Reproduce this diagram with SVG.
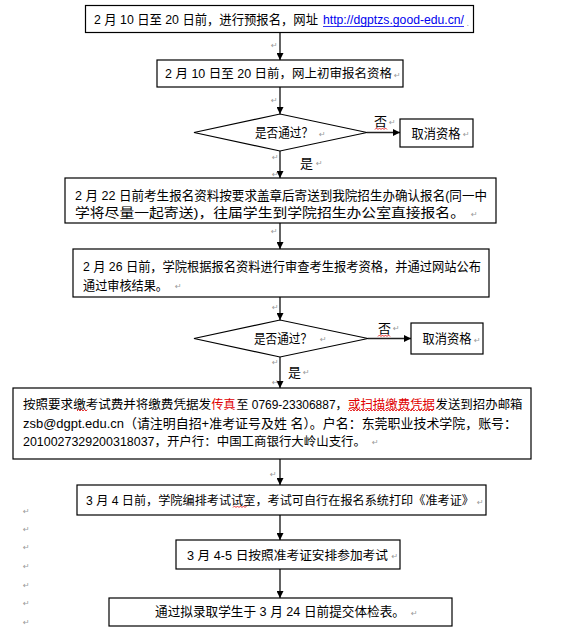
<svg xmlns="http://www.w3.org/2000/svg" width="573" height="634" viewBox="0 0 573 634">
<defs>
<marker id="ah" viewBox="0 0 10 10" refX="10" refY="5" markerWidth="7" markerHeight="7" markerUnits="userSpaceOnUse" orient="auto">
<path d="M0,0 L10,5 L0,10 z" fill="#000"/>
</marker>
<style>
.box{fill:#fff;stroke:#000;stroke-width:1.2}
.t{font-family:"Liberation Sans","Noto Sans CJK SC",sans-serif;font-size:13px;fill:#000}
.red{fill:#e00000}
.lnk{fill:#0000ee}
.rm{font-family:"DejaVu Sans",sans-serif;font-size:8px;fill:#999}
.cn{stroke:#222;stroke-width:1.4;fill:none;marker-end:url(#ah)}
.sq{stroke:#e00000;stroke-width:0.8;fill:none}
</style>
</defs>
<rect width="573" height="634" fill="#fff"/>

<g id="connectors">
<path class="cn" d="M280,32 V60"/>
<path class="cn" d="M280,87 V114"/>
<path class="cn" d="M280,151 V178"/>
<path class="cn" d="M367,132.5 H400"/>
<path class="cn" d="M280,223 V249"/>
<path class="cn" d="M280,297 V320"/>
<path class="cn" d="M280,357 V388"/>
<path class="cn" d="M368,338.5 H411"/>
<path class="cn" d="M280,459 V485"/>
<path class="cn" d="M280,515 V540"/>
<path class="cn" d="M280,569 V598"/>
<text class="t" x="300" y="167.5">是</text>
<text class="t" x="374" y="126">否</text>
<path class="sq" d="M375,129.5 l1.5,-1.5 l1.5,1.5 l1.5,-1.5 l1.5,1.5 l1.5,-1.5 l1.5,1.5 l1.5,-1.5 l1.5,1.5"/>
<text class="t" x="288" y="376.5">是</text>
<text class="t" x="378" y="332.5">否</text>
<path class="sq" d="M378,336.5 l1.5,-1.5 l1.5,1.5 l1.5,-1.5 l1.5,1.5 l1.5,-1.5 l1.5,1.5 l1.5,-1.5 l1.5,1.5"/>
<text class="rm" x="271" y="48">↵</text>
<text class="rm" x="271" y="103">↵</text>
<text class="rm" x="272" y="160">↵</text>
<text class="rm" x="272" y="177">↵</text>
<text class="rm" x="271" y="234">↵</text>
<text class="rm" x="272" y="310">↵</text>
<text class="rm" x="272" y="365">↵</text>
<text class="rm" x="272" y="385">↵</text>
<text class="rm" x="270" y="477">↵</text>
<text class="rm" x="389" y="125">↵</text>
<text class="rm" x="316" y="166">↵</text>
<text class="rm" x="393" y="331">↵</text>
<text class="rm" x="303" y="375">↵</text>
</g>

<g id="n1">
<rect class="box" x="85.5" y="5.5" width="388" height="27"/>
<text class="t" x="94" y="24" textLength="224" lengthAdjust="spacingAndGlyphs">2 月 10 日至 20 日前，进行预报名，网址</text>
<text class="t lnk" x="323" y="24" style="font-size:12px" textLength="141" lengthAdjust="spacingAndGlyphs">http://dgptzs.good-edu.cn/</text>
<line x1="323" y1="26.5" x2="464" y2="26.5" stroke="#0000ee" stroke-width="0.8"/>
<text class="rm" x="466.5" y="26">.</text>
</g>

<g id="n2">
<rect class="box" x="157" y="60" width="246" height="27"/>
<text class="t" x="165" y="78" style="font-size:12.4px" textLength="227" lengthAdjust="spacingAndGlyphs">2 月 10 日至 20 日前，网上初审报名资格</text>
<text class="rm" x="394" y="78">↵</text>
</g>

<g id="d1">
<polygon class="box" points="194,132.5 280,114 367,132.5 280,151"/>
<text class="t" x="255" y="137" textLength="58" lengthAdjust="spacingAndGlyphs">是否通过？</text>
<text class="rm" x="319" y="137">↵</text>
</g>

<g id="c1">
<rect class="box" x="400" y="119" width="73" height="28"/>
<text class="t" x="411.5" y="137.5" textLength="49" lengthAdjust="spacingAndGlyphs">取消资格</text>
<text class="rm" x="463" y="137">↵</text>
</g>

<g id="n3">
<rect class="box" x="65" y="178" width="431" height="45"/>
<text class="t" x="75" y="199.5" textLength="412" lengthAdjust="spacingAndGlyphs">2 月 22 日前考生报名资料按要求盖章后寄送到我院招生办确认报名(同一中</text>
<text class="t" x="75" y="217" textLength="390" lengthAdjust="spacingAndGlyphs">学将尽量一起寄送)，往届学生到学院招生办公室直接报名。</text>
<text class="rm" x="471" y="217">↵</text>
</g>

<g id="n4">
<rect class="box" x="73" y="249" width="416" height="48"/>
<text class="t" x="83" y="271" textLength="398" lengthAdjust="spacingAndGlyphs">2 月 26 日前，学院根据报名资料进行审查考生报考资格，并通过网站公布</text>
<text class="t" x="83" y="289.5" textLength="85" lengthAdjust="spacingAndGlyphs">通过审核结果。</text>
<text class="rm" x="175" y="289">↵</text>
</g>

<g id="d2">
<polygon class="box" points="194,338.5 280,320 368,338.5 280,357"/>
<text class="t" x="254" y="342.5" textLength="58" lengthAdjust="spacingAndGlyphs">是否通过？</text>
<text class="rm" x="320" y="342">↵</text>
</g>

<g id="c2">
<rect class="box" x="411" y="323" width="72" height="31"/>
<text class="t" x="422.5" y="343" textLength="49" lengthAdjust="spacingAndGlyphs">取消资格</text>
<text class="rm" x="474" y="343">↵</text>
</g>

<g id="n5">
<rect class="box" x="13" y="388" width="518" height="71"/>
<text class="t" x="23" y="408.5" style="font-size:12.5px" textLength="188" lengthAdjust="spacingAndGlyphs">按照要求缴考试费并将缴费凭据发</text>
<text class="t red" x="211.5" y="408.5" style="font-size:12.5px" textLength="24" lengthAdjust="spacingAndGlyphs">传真</text>
<text class="t" x="236.5" y="408.5" style="font-size:12px" textLength="111" lengthAdjust="spacingAndGlyphs">至 0769-23306887，</text>
<text class="t red" x="348" y="408.5" style="font-size:12.4px" textLength="87" lengthAdjust="spacingAndGlyphs">或扫描缴费凭据</text>
<text class="t" x="435.5" y="408.5" style="font-size:12.5px" textLength="87" lengthAdjust="spacingAndGlyphs">发送到招办邮箱</text>
<text class="t" x="23" y="428" textLength="494" lengthAdjust="spacingAndGlyphs">zsb@dgpt.edu.cn（请注明自招+准考证号及姓 名）。户名：东莞职业技术学院，账号：</text>
<text class="t" x="23" y="445.5" style="font-size:12.4px" textLength="343" lengthAdjust="spacingAndGlyphs">2010027329200318037，开户行：中国工商银行大岭山支行。</text>
<text class="rm" x="372" y="445">↵</text>
<path class="sq" d="M77,411 l1.5,-1.5 l1.5,1.5 l1.5,-1.5 l1.5,1.5 l1.5,-1.5 l1.5,1.5 l1.5,-1.5"/>
<path class="sq" d="M348,411 l1.5,-1.5 l1.5,1.5 l1.5,-1.5 l1.5,1.5 l1.5,-1.5 l1.5,1.5 l1.5,-1.5 l1.5,1.5 l1.5,-1.5 l1.5,1.5 l1.5,-1.5 l1.5,1.5 l1.5,-1.5 l1.5,1.5 l1.5,-1.5 l1.5,1.5 l1.5,-1.5 l1.5,1.5 l1.5,-1.5 l1.5,1.5 l1.5,-1.5 l1.5,1.5 l1.5,-1.5 l1.5,1.5 l1.5,-1.5 l1.5,1.5 l1.5,-1.5 l1.5,1.5 l1.5,-1.5 l1.5,1.5 l1.5,-1.5 l1.5,1.5 l1.5,-1.5 l1.5,1.5 l1.5,-1.5 l1.5,1.5 l1.5,-1.5 l1.5,1.5 l1.5,-1.5 l1.5,1.5 l1.5,-1.5 l1.5,1.5 l1.5,-1.5 l1.5,1.5 l1.5,-1.5 l1.5,1.5 l1.5,-1.5 l1.5,1.5 l1.5,-1.5 l1.5,1.5 l1.5,-1.5 l1.5,1.5 l1.5,-1.5 l1.5,1.5 l1.5,-1.5 l1.5,1.5 l1.5,-1.5"/>
</g>

<g id="n6">
<rect class="box" x="77" y="485" width="409" height="30"/>
<text class="t" x="86" y="505" style="font-size:12px" textLength="388" lengthAdjust="spacingAndGlyphs">3 月 4 日前，学院编排考试试室，考试可自行在报名系统打印《准考证》</text>
<text class="rm" x="477" y="505">↵</text>
<path class="sq" d="M233,507.5 l1.5,-1.5 l1.5,1.5 l1.5,-1.5 l1.5,1.5 l1.5,-1.5 l1.5,1.5 l1.5,-1.5 l1.5,1.5 l1.5,-1.5"/>
</g>

<g id="n7">
<rect class="box" x="176" y="540" width="224" height="29"/>
<text class="t" x="187" y="559.5" style="font-size:12.5px" textLength="201" lengthAdjust="spacingAndGlyphs">3 月 4-5 日按照准考证安排参加考试</text>
<text class="rm" x="391.5" y="559">↵</text>
</g>

<g id="n8">
<rect class="box" x="109" y="598" width="343" height="28"/>
<text class="t" x="155" y="616" textLength="250" lengthAdjust="spacingAndGlyphs">通过拟录取学生于 3 月 24 日前提交体检表。</text>
<text class="rm" x="411" y="616">↵</text>
</g>

<g id="marks">
<text class="rm" x="23" y="514">↵</text>
<text class="rm" x="23" y="532">↵</text>
<text class="rm" x="23" y="550">↵</text>
<text class="rm" x="23" y="569">↵</text>
<text class="rm" x="23" y="588">↵</text>
<text class="rm" x="23" y="606">↵</text>
<text class="rm" x="23" y="625">↵</text>
</g>
</svg>
